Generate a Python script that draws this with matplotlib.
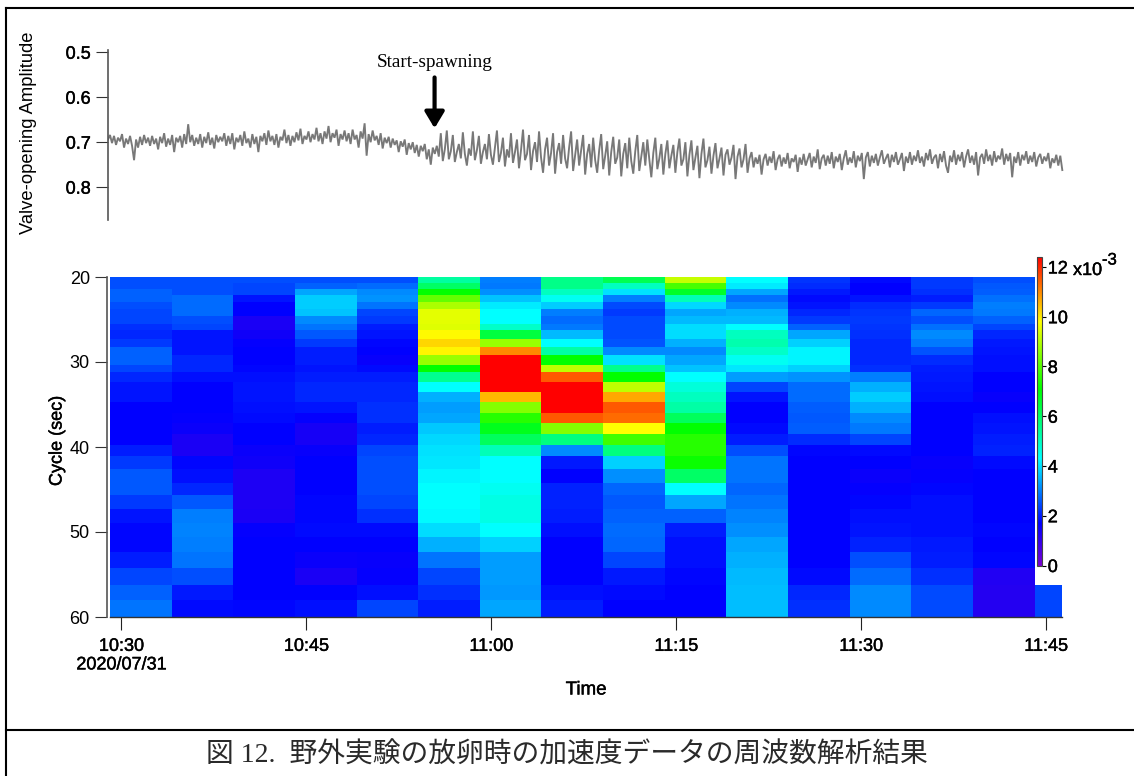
import matplotlib
matplotlib.use("Agg")
import matplotlib.pyplot as plt
import matplotlib.patheffects as pe
import numpy as np
from matplotlib.colors import LinearSegmentedColormap
from matplotlib.lines import Line2D

W, H = 1134, 776

################################################# Data
# cycle bin edges [sec], read from the row boundaries
cycle_edges = [20.0, 20.7, 21.45, 22.16, 22.94, 23.73, 24.59, 25.49, 26.27, 27.25, 28.24,
               29.2, 30.3, 31.2, 32.3, 33.5, 34.75, 35.96, 37.2, 38.5, 39.8, 41.1,
               42.6, 44.2, 45.7, 47.3, 48.9, 50.6, 52.4, 54.2, 56.2, 58.0, 60.0]
# time bin edges [min after 10:30]
time_edges = [-0.93, 4.07, 9.07, 14.07, 19.07, 24.07, 29.07, 34.07, 39.07, 44.07, 49.07,
              54.07, 59.07, 64.07, 69.07, 74.07, 76.3]

# one list per time bin, top row first, [x10^-3]
col00 = [2.5,2.5,2.7,2.7,2.5,2.4,2.4,2.2,2.1,2.3,2.7,2.7,2.4,2.1,1.9,1.9,1.7,1.7,1.7,1.7,2.0,2.3,2.6,2.6,2.3,1.9,1.75,1.75,2.0,2.4,2.7,2.9]
col01 = [2.5,2.5,2.5,2.8,2.8,2.8,2.5,2.4,1.9,1.9,1.9,2.1,2.1,1.85,1.7,1.7,1.7,1.65,1.55,1.35,1.35,1.75,1.85,2.1,2.6,3.0,3.05,3.0,2.9,2.5,1.95,1.8]
col02 = [2.5,2.4,2.4,1.9,1.7,1.7,1.35,1.35,1.5,1.65,1.7,1.7,1.75,1.85,1.9,1.9,1.85,1.8,1.7,1.7,1.55,1.5,1.3,1.3,1.3,1.35,1.65,1.7,1.7,1.7,1.7,1.75]
col03 = [2.5,2.7,3.4,3.8,3.8,3.7,3.1,2.9,2.6,2.3,2.0,2.0,1.9,2.0,2.1,2.1,1.9,1.65,1.4,1.4,1.6,1.7,1.7,1.7,1.75,1.75,1.8,1.7,1.55,1.35,1.7,1.85]
col04 = [2.5,2.8,3.1,3.2,2.9,2.4,2.3,2.0,1.9,1.75,1.7,1.6,1.8,2.0,2.1,2.1,2.2,2.2,2.0,2.1,2.4,2.5,2.5,2.5,2.4,2.2,1.8,1.7,1.6,1.65,1.85,2.4]
col05 = [5.35,6.0,7.1,8.15,8.9,9.5,9.5,9.45,9.85,10.2,9.9,8.7,7.1,5.5,4.3,3.5,3.3,3.4,3.75,3.9,4.0,4.05,4.2,4.3,4.3,4.25,3.95,3.5,2.9,2.4,2.2,2.0]
col06 = [3.0,2.95,3.15,3.7,4.1,4.3,4.3,4.9,6.4,8.7,11.0,12.4,12.4,12.4,12.4,10.5,8.5,7.5,6.8,6.1,5.1,4.3,4.3,4.45,4.6,4.6,4.3,3.85,3.3,3.3,3.25,3.4]
col07 = [5.6,5.6,5.0,4.45,3.8,3.0,2.8,2.95,3.6,4.3,5.3,7.1,9.1,11.5,12.4,12.4,12.4,11.5,8.5,5.7,3.1,1.95,1.7,2.05,2.05,2.0,1.85,1.7,1.7,1.7,1.85,2.0]
col08 = [6.2,5.0,4.0,3.0,2.45,2.3,2.45,2.45,2.45,2.55,3.1,4.0,5.55,7.1,9.1,10.7,11.5,11.3,9.8,7.75,5.7,3.85,3.15,2.75,2.6,2.7,2.8,2.75,2.4,1.95,1.8,1.7]
col09 = [9.2,7.85,6.65,5.1,3.9,3.4,3.6,3.95,3.95,3.5,3.1,3.4,3.7,4.3,4.7,5.0,5.3,6.1,7.1,7.5,7.5,7.2,6.0,4.3,3.4,2.7,2.0,1.85,1.85,1.75,1.7,1.7]
col10 = [4.3,4.1,3.4,2.85,3.1,3.5,3.6,4.3,5.0,5.2,4.9,4.45,4.05,3.3,2.4,1.9,1.7,1.7,1.8,2.0,2.5,2.9,2.9,2.75,2.9,3.05,3.15,3.4,3.5,3.6,3.65,3.65]
col11 = [2.25,2.15,1.95,1.8,1.9,2.1,2.3,2.7,3.4,3.85,4.2,4.2,3.85,3.2,2.8,2.8,2.65,2.6,2.65,2.15,1.75,1.7,1.7,1.7,1.7,1.7,1.7,1.7,1.7,1.8,2.1,2.2]
col12 = [1.8,1.7,1.7,1.9,2.15,2.25,2.3,2.25,2.2,2.1,2.1,2.1,2.2,3.0,3.5,3.8,3.5,3.1,2.95,2.4,1.8,1.7,1.55,1.65,1.75,1.85,1.9,2.05,2.5,2.8,3.1,3.1]
col13 = [2.3,2.3,2.2,2.0,2.3,2.75,2.5,2.85,3.1,2.95,2.55,2.15,2.0,1.95,1.9,1.85,1.7,1.7,1.7,1.7,1.7,1.6,1.65,1.75,1.85,1.85,1.85,1.95,2.0,2.2,2.45,2.45]
col14 = [2.5,2.6,2.65,2.85,3.0,2.95,2.7,2.4,2.1,1.95,1.9,1.85,1.85,1.7,1.7,1.6,1.7,1.85,1.9,2.0,2.05,1.8,1.7,1.7,1.7,1.7,1.75,1.7,1.75,1.25,1.2,1.2]
col15 = [np.nan]*30 + [2.4,2.4]

valve = [
    .694,.684,.702,.686,.706,.690,.698,.682,.712,.692,.704,.686,.708,.740,.694,.712,.688,.706,.684,.702,
    .690,.708,.686,.704,.692,.716,.688,.702,.680,.710,.692,.706,.684,.722,.690,.700,.686,.712,.682,.704,
    .660,.700,.684,.708,.690,.704,.682,.712,.688,.702,.678,.706,.690,.714,.684,.700,.688,.698,.680,.708,
    .686,.704,.680,.716,.690,.700,.684,.708,.676,.702,.692,.712,.682,.704,.688,.722,.686,.698,.680,.706,
    .674,.698,.686,.706,.682,.712,.688,.696,.672,.702,.684,.708,.686,.700,.678,.696,.670,.704,.686,.694,
    .676,.700,.682,.694,.668,.698,.680,.704,.676,.692,.664,.700,.680,.690,.672,.708,.682,.694,.674,.698,
    .680,.704,.672,.694,.684,.712,.676,.692,.658,.730,.682,.700,.674,.696,.686,.706,.680,.714,.690,.702,
    .688,.712,.692,.706,.696,.722,.698,.710,.694,.728,.702,.716,.700,.724,.706,.732,.708,.720,.704,.738,
    .716,.750,.712,.726,.708,.732,.680,.742,.716,.674,.738,.720,.684,.744,.722,.704,.736,.678,.726,.752,
    .714,.730,.676,.740,.718,.686,.748,.722,.704,.738,.682,.728,.750,.712,.674,.744,.724,.690,.754,.716,
    .734,.680,.746,.722,.694,.758,.718,.672,.740,.726,.684,.762,.720,.700,.744,.676,.734,.768,.716,.690,
    .752,.724,.680,.770,.722,.702,.748,.684,.736,.758,.712,.676,.764,.728,.694,.752,.718,.684,.772,.726,
    .704,.756,.690,.740,.768,.718,.682,.760,.730,.698,.774,.722,.688,.748,.734,.694,.776,.726,.702,.758,
    .690,.742,.770,.720,.684,.764,.732,.700,.752,.694,.738,.778,.724,.690,.760,.736,.704,.772,.726,.696,
    .758,.730,.706,.768,.722,.692,.752,.738,.700,.776,.728,.696,.762,.734,.708,.780,.726,.692,.756,.740,
    .710,.770,.730,.702,.758,.736,.712,.774,.728,.716,.750,.734,.706,.782,.732,.714,.756,.738,.704,.768,
    .736,.722,.756,.734,.748,.728,.772,.738,.726,.752,.732,.746,.720,.762,.738,.728,.754,.734,.748,.724,
    .758,.736,.744,.728,.766,.734,.750,.726,.752,.738,.724,.756,.732,.746,.716,.760,.736,.728,.752,.730,
    .748,.722,.758,.732,.744,.726,.762,.736,.718,.750,.734,.746,.720,.756,.730,.742,.724,.782,.734,.722,
    .754,.730,.746,.726,.752,.734,.718,.748,.736,.726,.756,.728,.744,.722,.750,.738,.724,.764,.732,.746,
    .722,.750,.730,.742,.718,.746,.732,.754,.724,.740,.716,.748,.734,.728,.758,.726,.744,.720,.752,.768,
    .730,.744,.718,.750,.728,.742,.722,.756,.732,.716,.746,.730,.750,.722,.774,.734,.726,.748,.716,.742,
    .728,.752,.720,.744,.730,.738,.714,.750,.726,.742,.724,.778,.732,.746,.722,.752,.728,.740,.720,.748,
    .730,.744,.722,.754,.734,.726,.748,.732,.742,.724,.758,.736,.746,.728,.752,.730,.762]

time_ticks = [0, 15, 30, 45, 60, 75]
time_labels = ["10:30\n2020/07/31", "10:45", "11:00", "11:15", "11:30", "11:45"]
cycle_ticks = [20, 30, 40, 50, 60]
valve_ticks = [0.5, 0.6, 0.7, 0.8]
cbar_ticks = [0, 2, 4, 6, 8, 10, 12]

################################################# Colours
VMAX = 12.4
cmap = LinearSegmentedColormap.from_list("igor_rainbow", [
    (0.0, (0.47, 0.0, 0.82)),
    (1.7 / VMAX, (0.0, 0.0, 1.0)),
    (4.3 / VMAX, (0.0, 1.0, 1.0)),
    (7.1 / VMAX, (0.0, 1.0, 0.0)),
    (9.8 / VMAX, (1.0, 1.0, 0.0)),
    (1.0, (1.0, 0.0, 0.0))], N=512)

################################################# Figure
plt.rcParams['font.family'] = ['Liberation Sans', 'DejaVu Sans']
fig = plt.figure(figsize=(W / 100, H / 100), dpi=100)

def px_axes(x0, y0, x1, y1):
    # pixel box with y from the top of the picture
    return fig.add_axes([x0 / W, 1 - y1 / H, (x1 - x0) / W, (y1 - y0) / H])

AX_COL = "#555555"
TICK_SIZE = 13
HEAVY = [pe.withStroke(linewidth=0.3, foreground="black")]

################################################# Valve trace
ax_top = px_axes(108, 50, 1066, 220)
valve_time = np.linspace(-1.08, 76.3, len(valve))
ax_top.plot(valve_time, valve, color="#787878", lw=1.35, solid_joinstyle="miter")
ax_top.set_xlim(-1.08, 76.6)
ax_top.set_ylim(0.873, 0.495)
ax_top.set_xticks([])
ax_top.set_yticks(valve_ticks)
ax_top.set_yticklabels(["%.1f" % v for v in valve_ticks], path_effects=HEAVY)
ax_top.tick_params(axis='y', length=8.5, width=0.8, color="#333333", labelsize=TICK_SIZE, pad=4)
for s in ['top', 'right', 'bottom']:
    ax_top.spines[s].set_visible(False)
ax_top.spines['left'].set_color(AX_COL)
ax_top.spines['left'].set_linewidth(1.2)
ax_top.patch.set_alpha(0)

# spawning marker
ax_top.annotate("", xy=(25.4, 0.669), xytext=(25.4, 0.556),
                arrowprops=dict(arrowstyle="-|>,head_length=0.7,head_width=0.42", color="black",
                                lw=3, shrinkA=0, shrinkB=0, mutation_scale=14))
ax_top.text(25.4, 0.522, "Start-spawning", ha='center', va='center', fontsize=13.8,
            family='Liberation Serif')

################################################# Spectrogram
ax_map = px_axes(110, 277, 1062, 617)
Z = np.ma.masked_invalid(np.array([col00, col01, col02, col03, col04, col05, col06, col07,
                                   col08, col09, col10, col11, col12, col13, col14, col15]).T)
mesh = ax_map.pcolormesh(time_edges, cycle_edges, Z, cmap=cmap, vmin=0, vmax=VMAX,
                         shading='flat', linewidth=0, rasterized=True)
ax_map.set_xlim(-0.93, 76.3)
ax_map.set_ylim(60, 20)
ax_map.set_xticks(time_ticks)
ax_map.set_xticklabels(time_labels, linespacing=1.12, path_effects=HEAVY)
ax_map.set_yticks(cycle_ticks)
ax_map.set_yticklabels([str(c) for c in cycle_ticks], path_effects=HEAVY)
ax_map.tick_params(axis='x', length=9, width=0.8, color="#222222", labelsize=TICK_SIZE, pad=6)
ax_map.tick_params(axis='y', length=8.5, width=0.8, color="#333333", labelsize=TICK_SIZE, pad=4)
for s in ['top', 'right']:
    ax_map.spines[s].set_visible(False)
ax_map.spines['left'].set_position(('outward', 2))
ax_map.spines['left'].set_color(AX_COL)
ax_map.spines['left'].set_linewidth(1.2)
ax_map.spines['bottom'].set_color("#333333")
ax_map.spines['bottom'].set_linewidth(1.0)

################################################# Colour bar
cax = px_axes(1037, 257, 1041.5, 565.5)
cb = fig.colorbar(mesh, cax=cax, ticks=cbar_ticks)
cb.outline.set_edgecolor("#444444")
cb.outline.set_linewidth(0.8)
cax.tick_params(length=3, width=0.8, labelsize=TICK_SIZE, pad=1.5)
for lab in cax.get_yticklabels():
    lab.set_path_effects(HEAVY)
fig.text(1073 / W, 1 - 270.5 / H, "x10", fontsize=TICK_SIZE, ha='left', va='center', path_effects=HEAVY)
fig.text(1102 / W, 1 - 260 / H, "-3", fontsize=TICK_SIZE - 1, ha='left', va='center', path_effects=HEAVY)

################################################# Labels
fig.text(29 / W, 1 - 133 / H, "Valve-opening Amplitude", rotation=90, fontsize=13.2, ha='center', va='center')
fig.text(57 / W, 1 - 441 / H, "Cycle (sec)", rotation=90, fontsize=13, ha='center', va='center', path_effects=HEAVY)
fig.text(586 / W, 1 - 690 / H, "Time", fontsize=13.5, ha='center', va='center', path_effects=HEAVY)

################################################# Frame and caption
for xs, ys in [((6, W), (8, 8)), ((6, 6), (8, H)), ((6, W), (730, 730))]:
    fig.add_artist(Line2D([x / W for x in xs], [1 - y / H for y in ys], color="black", lw=1.5))
fig.text(567 / W, 1 - 755 / H, "図 12.  野外実験の放卵時の加速度データの周波数解析結果", fontsize=20,
         ha='center', va='center', family=['Liberation Serif', 'Noto Sans CJK JP'], color="#2a2a2a")

plt.savefig("out.png", dpi=100)
